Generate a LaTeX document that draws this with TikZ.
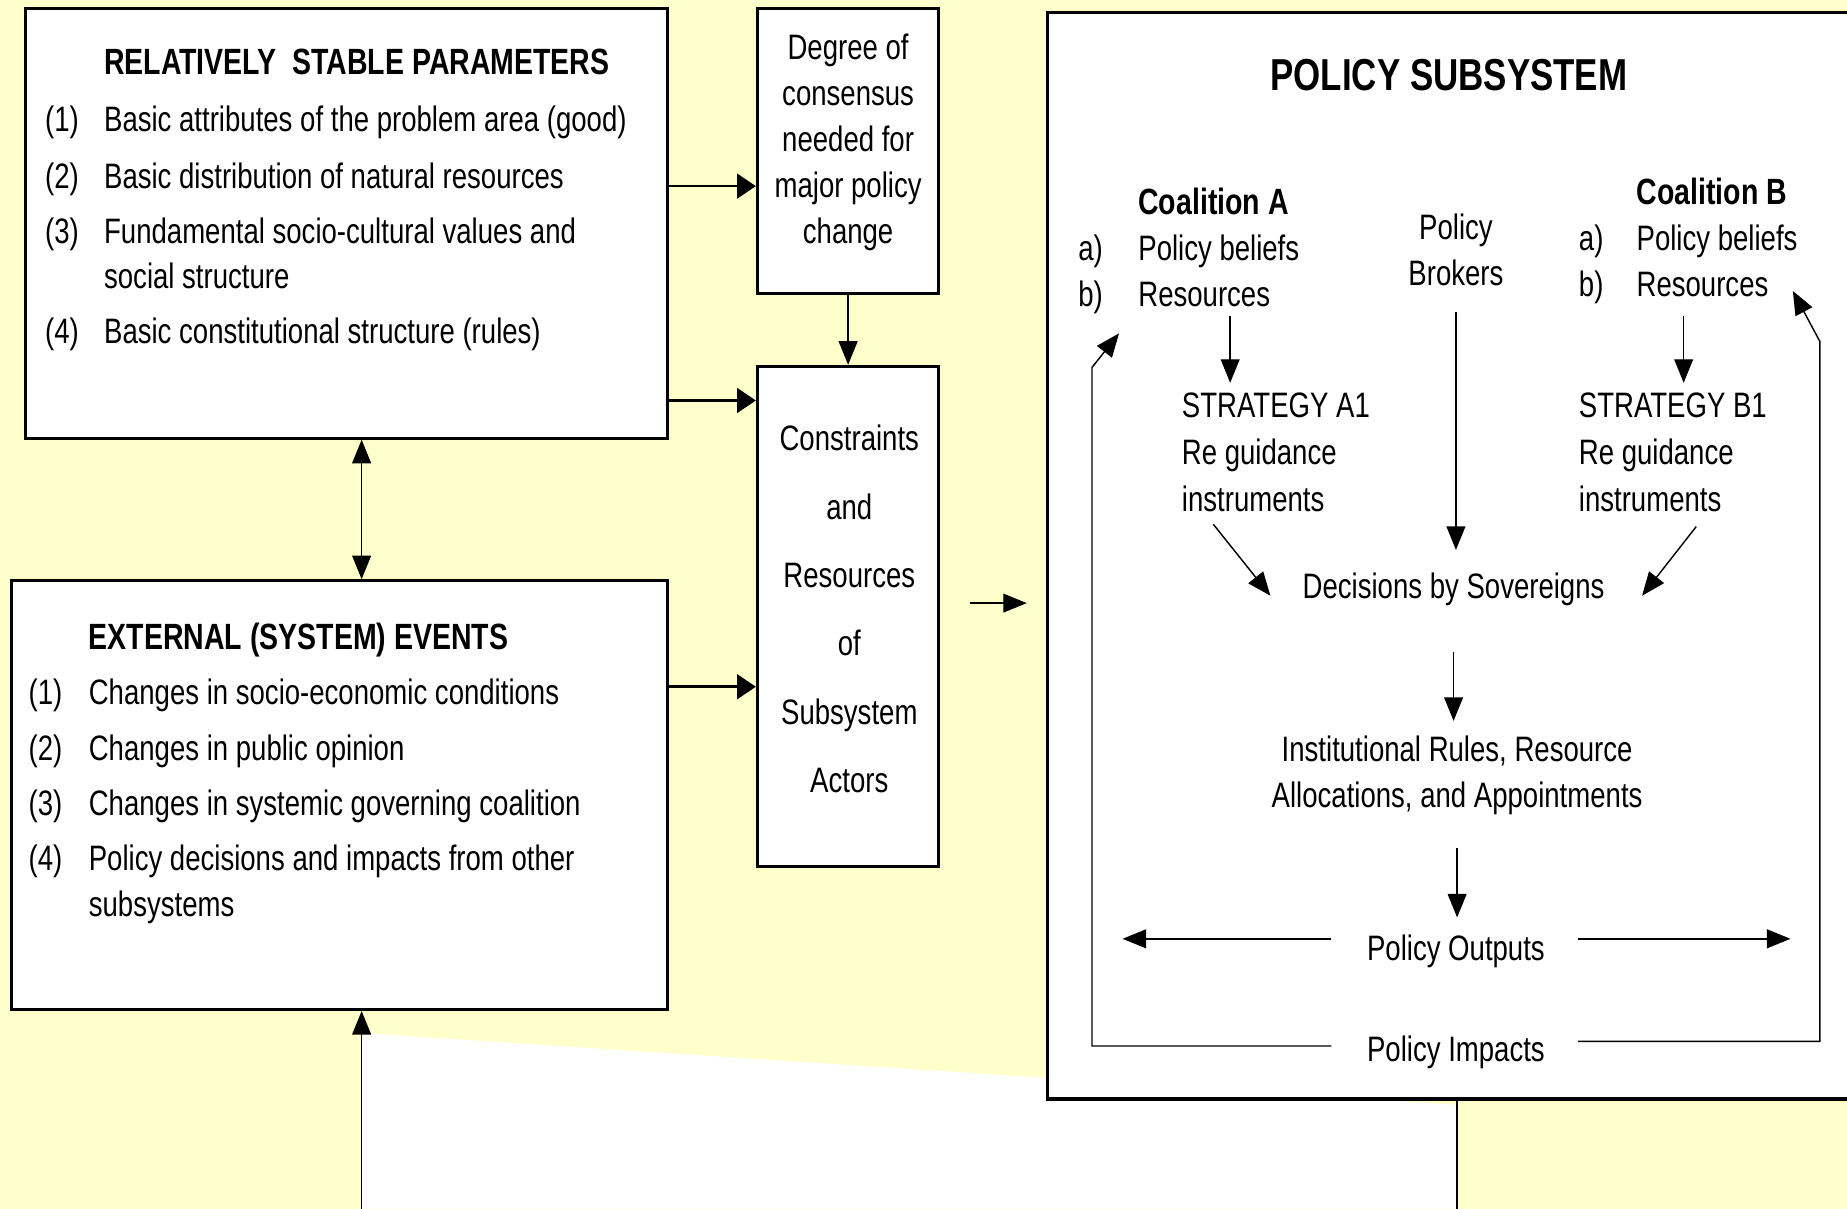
\documentclass[tikz,border=0pt]{standalone}
\usepackage{fontspec}
\setmainfont{Liberation Sans}[FakeStretch=0.78]
\usetikzlibrary{arrows.meta}
\definecolor{paper}{HTML}{FFFFCC}

\tikzset{
  frame/.style={rectangle,draw,line width=1.3pt,fill=white,inner sep=0pt},
  txt/.style={inner sep=0pt,font=\fontsize{15}{24}\selectfont},
  head/.style={inner sep=0pt,font=\fontsize{15.5}{24}\selectfont\bfseries},
  bigarr/.style={line width=1.1pt,-{Triangle[length=8pt,width=10.5pt]}},
  arr/.style={line width=0.6pt,-{Triangle[length=10pt,width=8pt]}},
}

\begin{document}
\begin{tikzpicture}[x=0.5pt,y=-0.5pt]
        \useasboundingbox (0,0) rectangle (1568,1026);
        \clip (0,0) rectangle (1568,1026);
        \fill [paper] (0,0) rectangle (1568,1026);
        % white band under the subsystem
        \fill [white] (307,877) -- (1237,938) -- (1237,1026) -- (307,1026) -- cycle;

        \node (stable) [frame,minimum width=272.5pt,minimum height=182.5pt] at (294.5,189.5) {};
        \node (degree) [frame,minimum width=77pt,minimum height=121pt] at (720,128) {};
        \node (constr) [frame,minimum width=77pt,minimum height=212.5pt] at (720,523.5) {};
        \node (events) [frame,minimum width=278.5pt,minimum height=182pt] at (288.5,675) {};
        \node (subsys) [frame,minimum width=350.5pt,minimum height=461pt] at (1239.5,472) {};

        \node (stabletitle) [head,anchor=base west] at (88,63) {RELATIVELY\ \ STABLE PARAMETERS};
        \node (sn1) [txt,anchor=base west] at (38,112) {(1)};
        \node (s1) [txt,anchor=base west] at (88,112) {Basic attributes of the problem area (good)};
        \node (sn2) [txt,anchor=base west] at (38,160) {(2)};
        \node (s2) [txt,anchor=base west] at (88,160) {Basic distribution of natural resources};
        \node (sn3) [txt,anchor=base west] at (38,207) {(3)};
        \node (s3) [txt,anchor=base west,align=left,font=\fontsize{15}{19}\selectfont] at (88,245) {Fundamental socio-cultural values and\\social structure};
        \node (sn4) [txt,anchor=base west] at (38,292) {(4)};
        \node (s4) [txt,anchor=base west] at (88,292) {Basic constitutional structure (rules)};

        \node (eventstitle) [head,anchor=base west] at (75,551) {EXTERNAL (SYSTEM) EVENTS};
        \node (en1) [txt,anchor=base west] at (24,598) {(1)};
        \node (e1) [txt,anchor=base west] at (75,598) {Changes in socio-economic conditions};
        \node (en2) [txt,anchor=base west] at (24,646) {(2)};
        \node (e2) [txt,anchor=base west] at (75,646) {Changes in public opinion};
        \node (en3) [txt,anchor=base west] at (24,692) {(3)};
        \node (e3) [txt,anchor=base west] at (75,692) {Changes in systemic governing coalition};
        \node (en4) [txt,anchor=base west] at (24,739) {(4)};
        \node (e4) [txt,anchor=base west,align=left,font=\fontsize{15}{19.5}\selectfont] at (75,778) {Policy decisions and impacts from other\\subsystems};

        \node (degreetxt) [txt,align=center,font=\fontsize{15}{19.5}\selectfont] at (720,121) {Degree of\\consensus\\needed for\\major policy\\change};
        \node (constrtxt) [txt,align=center,font=\fontsize{15}{29}\selectfont] at (721,517) {Constraints\\and\\Resources\\of\\Subsystem\\Actors};

        \node (subtitle) [inner sep=0pt,anchor=base,font=\fontsize{19}{24}\selectfont\bfseries] at (1230,77) {POLICY SUBSYSTEM};
        \node (coalA) [head,anchor=base west] at (966,182) {Coalition A};
        \node (la) [txt,anchor=base west] at (915,221) {a)};
        \node (beliefA) [txt,anchor=base west] at (966,221) {Policy beliefs};
        \node (lb) [txt,anchor=base west] at (915,260) {b)};
        \node (resA) [txt,anchor=base west] at (966,260) {Resources};
        \node (coalB) [head,anchor=base west] at (1389,174) {Coalition B};
        \node (lc) [txt,anchor=base west] at (1340,213) {a)};
        \node (beliefB) [txt,anchor=base west] at (1389,213) {Policy beliefs};
        \node (ld) [txt,anchor=base west] at (1340,252) {b)};
        \node (resB) [txt,anchor=base west] at (1389,252) {Resources};
        \node (brokers) [txt,align=center,font=\fontsize{15}{19.5}\selectfont] at (1236,212) {Policy\\Brokers};
        \node (stratA) [txt,anchor=north west,align=left,font=\fontsize{15}{20}\selectfont] at (1003,333) {STRATEGY A1\\Re guidance\\instruments};
        \node (stratB) [txt,anchor=north west,align=left,font=\fontsize{15}{20}\selectfont] at (1340,333) {STRATEGY B1\\Re guidance\\instruments};
        \node (decide) [txt,anchor=base] at (1234,508) {Decisions by Sovereigns};
        \node (inst) [txt,anchor=north,align=center,font=\fontsize{15}{19.5}\selectfont] at (1237,624) {Institutional Rules, Resource\\Allocations, and Appointments};
        \node (outputs) [txt,anchor=base] at (1236,815) {Policy Outputs};
        \node (impacts) [txt,anchor=base] at (1236,901) {Policy Impacts};

        \coordinate (outL) at (953,797);
        \coordinate (outR) at (1520,797);
        \coordinate (fbLa) at (927,888);
        \coordinate (fbLb) at (927,312);
        \coordinate (fbLend) at (950,283);
        \coordinate (fbRa) at (1545,884);
        \coordinate (fbRb) at (1545,290);
        \coordinate (fbRend) at (1522,247);
        \coordinate (floorL) at (307,1026);
        \coordinate (floorR) at (1237,1026);

        \draw [bigarr] ([yshift=15.75pt]stable.east) -- ([yshift=15.75pt]stable.east -| degree.west);
        \draw [bigarr] ([yshift=-75.25pt]stable.east) -- ([yshift=-75.25pt]stable.east -| constr.west);
        \draw [bigarr] ([yshift=46pt]events.east) -- ([yshift=46pt]events.east -| constr.west);
        \draw [arr] (degree.south) -- (constr.north);
        \draw [arr,{Triangle[length=10pt,width=8pt]}-{Triangle[length=10pt,width=8pt]}] ([xshift=6.25pt]stable.south) -- ([xshift=6.25pt]stable.south |- events.north);
        \draw [arr] (floorL) -- (floorL |- events.south);
        \draw [line width=0.6pt] (floorR) -- (floorR |- subsys.south);
        \draw [arr,shorten <=12.5pt,shorten >=8pt] ([yshift=5.75pt]constr.east) -- ([yshift=5.75pt]constr.east -| subsys.west);

        \draw [arr,shorten <=4pt,shorten >=4pt] ([xshift=11pt]resA.south) -- ([xshift=11pt]resA.south |- stratA.north);
        \draw [arr,shorten <=8pt,shorten >=4pt] ([xshift=-8pt]resB.south) -- ([xshift=-8pt]resB.south |- stratB.north);
        \draw [arr,shorten <=11pt,shorten >=9.5pt] (brokers.south) -- (brokers.south |- decide.north);
        \draw [arr] ([xshift=13.5pt,yshift=-5pt]stratA.south west) -- ([xshift=-13.5pt,yshift=-2.75pt]decide.west);
        \draw [arr] ([xshift=50pt,yshift=-6pt]stratB.south west) -- ([xshift=15.75pt,yshift=-2.75pt]decide.east);
        \draw [arr,shorten <=19.5pt,shorten >=6pt] (decide.south) -- (decide.south |- inst.north);
        \draw [arr,shorten <=14pt,shorten >=7pt] (inst.south) -- (inst.south |- outputs.north);
        \draw [arr,shorten <=15pt] (outputs.west |- outL) -- (outL);
        \draw [arr,shorten <=14pt] (outputs.east |- outR) -- (outR);
        \draw [arr,shorten <=15pt] (impacts.west |- fbLa) -- (fbLa) -- (fbLb) -- (fbLend);
        \draw [arr,shorten <=14pt] (impacts.east |- fbRa) -- (fbRa) -- (fbRb) -- (fbRend);

    \end{tikzpicture}
\end{document}
